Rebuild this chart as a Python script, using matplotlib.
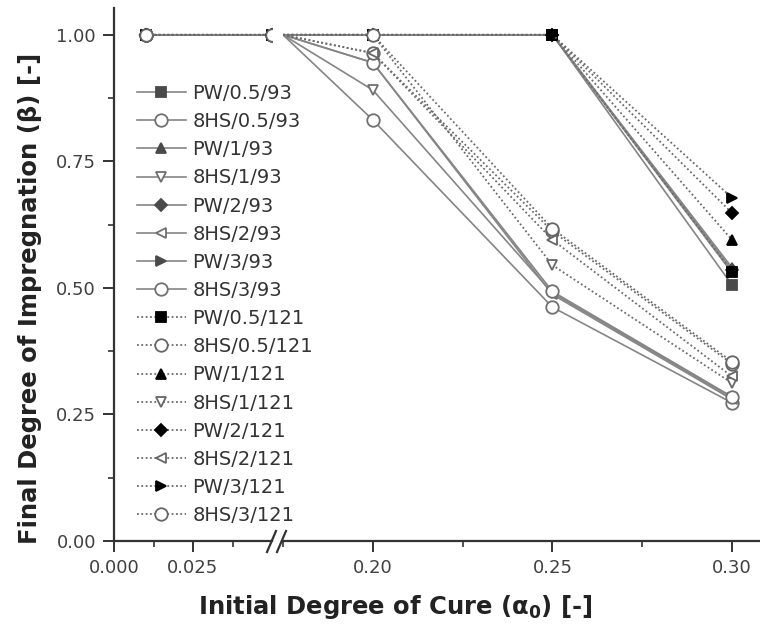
"""
plot.py
Final degree of impregnation vs initial degree of cure (broken x axis)
"""

import numpy as np
import matplotlib
matplotlib.use('Agg')
import matplotlib.pyplot as plt
from matplotlib.lines import Line2D
from matplotlib.ticker import MultipleLocator, FormatStrFormatter

# Data
alpha0 = np.array([0.01, 0.05, 0.20, 0.25, 0.30])

pw_05_93 = [1.0, 1.0, 1.0, 1.0, 0.506]
hs_05_93 = [1.0, 1.0, 0.832, 0.462, 0.273]
pw_1_93 = [1.0, 1.0, 1.0, 1.0, 0.540]
hs_1_93 = [1.0, 1.0, 0.891, 0.490, 0.283]
pw_2_93 = [1.0, 1.0, 1.0, 1.0, 0.535]
hs_2_93 = [1.0, 1.0, 0.945, 0.487, 0.280]
pw_3_93 = [1.0, 1.0, 1.0, 1.0, 0.530]
hs_3_93 = [1.0, 1.0, 0.945, 0.493, 0.285]
pw_05_121 = [1.0, 1.0, 1.0, 1.0, 0.532]
hs_05_121 = [1.0, 1.0, 0.964, 0.612, 0.350]
pw_1_121 = [1.0, 1.0, 1.0, 1.0, 0.595]
hs_1_121 = [1.0, 1.0, 1.0, 0.545, 0.312]
pw_2_121 = [1.0, 1.0, 1.0, 1.0, 0.648]
hs_2_121 = [1.0, 1.0, 0.964, 0.595, 0.325]
pw_3_121 = [1.0, 1.0, 1.0, 1.0, 0.678]
hs_3_121 = [1.0, 1.0, 1.0, 0.617, 0.354]

labels = ['PW/0.5/93', '8HS/0.5/93', 'PW/1/93', '8HS/1/93',
          'PW/2/93', '8HS/2/93', 'PW/3/93', '8HS/3/93',
          'PW/0.5/121', '8HS/0.5/121', 'PW/1/121', '8HS/1/121',
          'PW/2/121', '8HS/2/121', 'PW/3/121', '8HS/3/121']
series = [pw_05_93, hs_05_93, pw_1_93, hs_1_93, pw_2_93, hs_2_93, pw_3_93, hs_3_93,
          pw_05_121, hs_05_121, pw_1_121, hs_1_121, pw_2_121, hs_2_121, pw_3_121, hs_3_121]

# Figure size in pixels
W, H = 760, 634

# Axis layout (pixels)
y_bot, y_top = 541, 8
xl0, xl1 = 114, 272
xr0, xr1 = 283, 760
left_lim = (0.0, 0.05)
right_lim = (0.175, 0.3078)

markers = ['s', 'o', '^', 'v', 'D', '<', '>', 'o']
msizes = {'s': 6.5, 'o': 9, '^': 7.5, 'v': 7.5, 'D': 6.5, '<': 7.5, '>': 7.5}

def style(i):
    m = markers[i % 8]
    dotted = i >= 8
    pw = (i % 2 == 0)
    if dotted:
        ls = (0, (1, 1.4))
        lc = '#6a6a6a'
        lw = 1.3
        if pw:
            fc, ec = 'black', 'black'
        else:
            fc, ec = 'white', '#666666'
    else:
        ls = '-'
        lc = '#858585'
        lw = 1.2
        if pw:
            fc, ec = '#4a4a4a', '#4a4a4a'
        else:
            fc, ec = 'white', '#707070'
    return dict(linestyle=ls, color=lc, lw=lw, marker=m, ms=msizes[m],
                markerfacecolor=fc, markeredgecolor=ec, markeredgewidth=1.3)

def main():
    fig = plt.figure(figsize=(W / 100, H / 100), dpi=100)
    ax_l = fig.add_axes([xl0 / W, (H - y_bot) / H, (xl1 - xl0) / W, (y_bot - y_top) / H])
    ax_r = fig.add_axes([xr0 / W, (H - y_bot) / H, (xr1 - xr0) / W, (y_bot - y_top) / H])
    ax_r.patch.set_alpha(0)

    # right segment: points left of the break are pinned to its start
    x_r = np.where(alpha0 < right_lim[0], right_lim[0], alpha0)
    shown = [k for k, a in enumerate(alpha0) if a >= right_lim[0]]

    handles = []
    for i, (lab, y) in enumerate(zip(labels, series)):
        st = style(i)
        ax_l.plot(alpha0, y, zorder=3 + i, **st)
        ax_r.plot(x_r, y, markevery=shown, zorder=3 + i, **st)
        handles.append(Line2D([], [], **st))

    spine_c = '#333333'
    tick_c = '#404040'
    for ax in (ax_l, ax_r):
        ax.set_ylim(0, 1.053)
        for s in ('top', 'right'):
            ax.spines[s].set_visible(False)
        ax.spines['bottom'].set_color(spine_c)
        ax.spines['bottom'].set_linewidth(1.6)
        ax.tick_params(which='major', direction='out', length=8, width=1.4,
                       color=spine_c, labelsize=13, labelcolor=tick_c, pad=5)
        ax.tick_params(which='minor', direction='out', length=4, width=1.2, color=spine_c)

    ax_l.set_xlim(*left_lim)
    ax_l.spines['left'].set_color(spine_c)
    ax_l.spines['left'].set_linewidth(1.6)
    ax_l.xaxis.set_major_locator(MultipleLocator(0.025))
    ax_l.xaxis.set_minor_locator(MultipleLocator(0.0125))
    ax_l.xaxis.set_major_formatter(FormatStrFormatter('%.3f'))
    ax_l.yaxis.set_major_locator(MultipleLocator(0.25))
    ax_l.yaxis.set_minor_locator(MultipleLocator(0.125))
    ax_l.yaxis.set_major_formatter(FormatStrFormatter('%.2f'))
    # hide the tick that would sit on the break
    ax_l.set_xticks([0.0, 0.025])
    ax_l.set_xticks([0.0125, 0.0375], minor=True)

    ax_r.set_xlim(*right_lim)
    ax_r.spines['left'].set_visible(False)
    ax_r.set_yticks([])
    ax_r.yaxis.set_minor_locator(plt.NullLocator())
    ax_r.xaxis.set_major_locator(MultipleLocator(0.05))
    ax_r.xaxis.set_minor_locator(MultipleLocator(0.025))
    ax_r.xaxis.set_major_formatter(FormatStrFormatter('%.2f'))

    # break marks
    for x0 in (267, 277):
        fig.add_artist(Line2D([x0 / W, (x0 + 9) / W], [(H - 552) / H, (H - 531) / H],
                              color=spine_c, lw=1.6, transform=fig.transFigure))

    fig.legend(handles, labels, loc='upper left',
               bbox_to_anchor=(137 / W, 1 - 84 / H), frameon=False,
               fontsize=14, handlelength=2.5, handletextpad=0.35,
               labelspacing=0.47, borderpad=0, borderaxespad=0,
               labelcolor='#333333', numpoints=1)

    fig.text(395 / W, 1 - 607 / H, r'Initial Degree of Cure ($\mathregular{\alpha_0}$) [-]',
             ha='center', va='center', fontsize=17.5, fontweight='bold', color='#222222')
    fig.text(30 / W, 1 - 298 / H, 'Final Degree of Impregnation (\u03b2) [-]',
             ha='center', va='center', rotation=90, fontsize=17.5,
             fontweight='bold', color='#222222')

    plt.savefig('out.png', dpi=100)

if __name__ == "__main__":
    main()
